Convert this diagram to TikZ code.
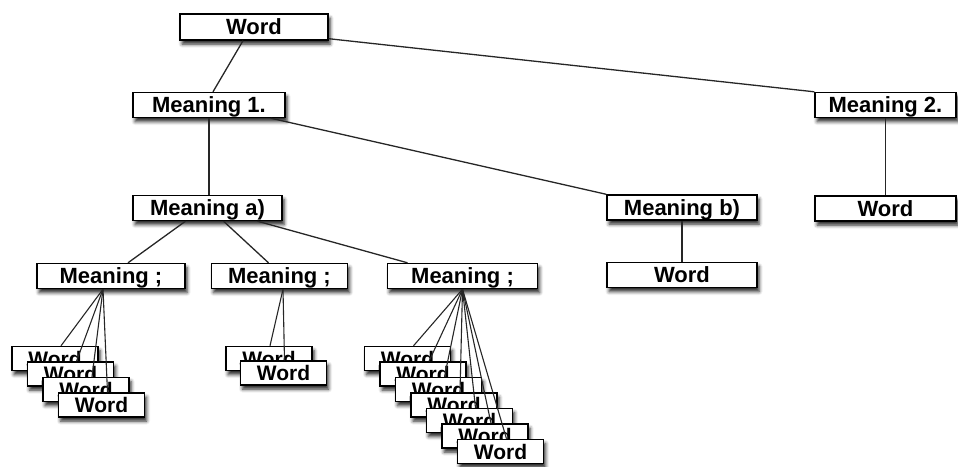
\documentclass[tikz,border=0pt]{standalone}
\usepackage{fontspec}
\setmainfont{Liberation Sans}
\usetikzlibrary{shadows.blur,calc}
\begin{document}
\begin{tikzpicture}[x=1pt,y=-1pt,
  box/.style={draw=black, line width=1.4pt, fill=white, inner sep=0pt,
    font=\bfseries\fontsize{22}{26}\selectfont, text height=18.5pt, text depth=3pt,
    minimum height=25pt,
    blur shadow={shadow xshift=2pt, shadow yshift=-4pt, shadow blur radius=3.5pt, shadow opacity=85}},
  wbox/.style={box, font=\bfseries\fontsize{21}{25}\selectfont, minimum width=86pt, minimum height=24pt},
  link/.style={draw=black!85, line width=1.3pt}]
\useasboundingbox (0,0) rectangle (958,466);
\node[box, minimum width=148pt, minimum height=26pt] (w0) at (254,27) {Word};
\node[box, minimum width=152pt] (m1) at (209,105) {Meaning 1.};
\node[box, minimum width=141pt] (m2) at (885.5,105) {Meaning 2.};
\node[box, minimum width=149pt] (ma) at (207.5,208) {Meaning a)};
\node[box, minimum width=150pt] (mb) at (682,207.5) {Meaning b)};
\node[box, minimum width=141pt] (w2) at (885.5,208.5) {Word};
\node[box, minimum width=148pt] (s1) at (111,276) {Meaning ;};
\node[box, minimum width=136pt] (s2) at (279.5,276) {Meaning ;};
\node[box, minimum width=150pt] (s3) at (462.5,276) {Meaning ;};
\node[box, minimum width=150pt] (wb) at (682,275) {Word};
% connectors between upper levels
\draw[link] ($(w0.south)+(-11,0)$) -- ($(m1.north)+(4,0)$);
\draw[link] ($(w0.south east)+(0,-2)$) -- (m2.north west);
\draw[link] (m1.south) -- (m1.south |- ma.north);
\draw[link] ($(m1.south east)+(-15,0)$) -- (mb.north west);
\draw[link] (m2.south) -- (w2.north);
\draw[link] (mb.south) -- (wb.north);
\draw[link] ($(ma.south)+(-22,0)$) -- ($(s1.north)+(17,0)$);
\draw[link] ($(ma.south)+(16,0)$) -- ($(s2.north)+(-11,0)$);
\draw[link] ($(ma.south)+(50,0)$) -- ($(s3.north)+(-55,0)$);
% word stacks
\foreach \i in {0,...,3} \node[wbox] (a\i) at (55+15.5*\i, 358.5+15.5*\i) {Word};
\foreach \i in {0,1} \node[wbox] (b\i) at (269+14.5*\i, 358.5+14.5*\i) {Word};
\foreach \i in {0,...,6} \node[wbox] (c\i) at (407.5+15.5*\i, 358.5+15.5*\i) {Word};
\foreach \i in {0,...,3} \draw[link, line width=1.1pt] ($(s1.south)+(-8,0)$) -- ($(a\i.north)+(6,0)$);
\foreach \i in {0,1} \draw[link, line width=1.1pt] ($(s2.south)+(3.5,0)$) -- ($(b\i.north)+(1,0)$);
\foreach \i in {0,...,6} \draw[link, line width=1.1pt] (s3.south) -- ($(c\i.north)+(6,0)$);
\end{tikzpicture}
\end{document}
